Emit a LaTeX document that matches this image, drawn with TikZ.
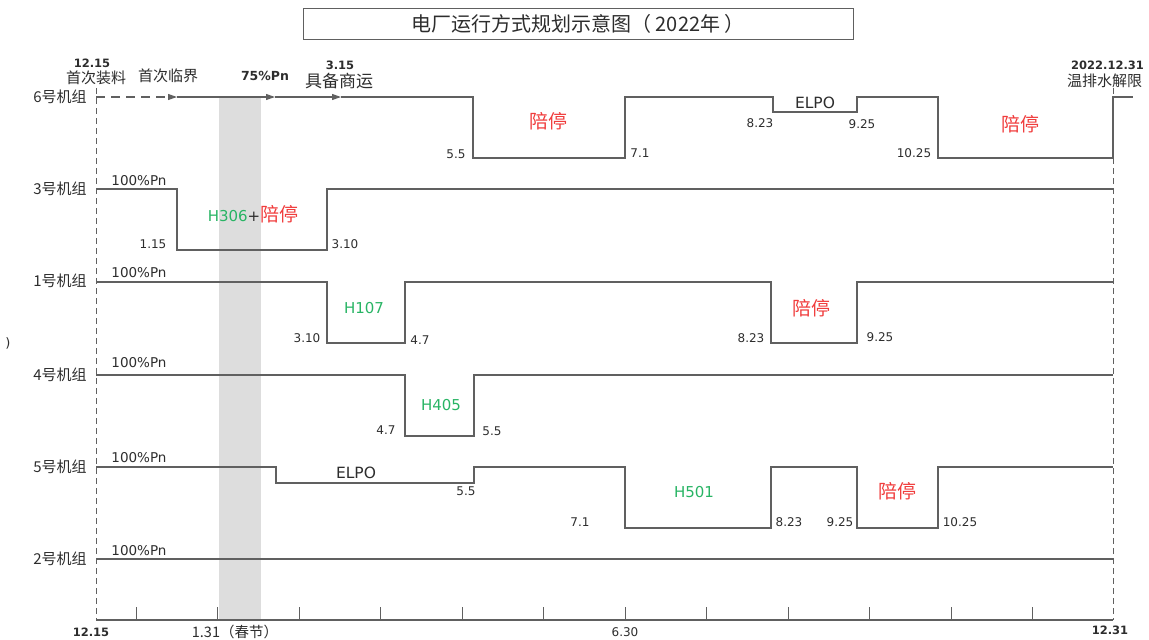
\documentclass[tikz,border=0pt]{standalone}
\usepackage{fontspec}
\setmainfont{DejaVu Sans}
\newfontfamily\cjk{Noto Sans CJK SC}
\usetikzlibrary{arrows.meta}
\definecolor{linegray}{RGB}{96,96,96}
\definecolor{txtgray}{RGB}{45,45,45}
\definecolor{stopred}{RGB}{240,60,60}
\definecolor{mtgreen}{RGB}{40,180,100}
\definecolor{bandgray}{RGB}{221,221,221}
\begin{document}
\begin{tikzpicture}[x=1pt,y=-1pt]
\tikzstyle{lvl}=[draw=linegray,line width=1.1pt]
\tikzstyle{bound}=[draw=linegray,line width=1pt,dash pattern=on 6pt off 4pt]
\tikzstyle{fwd}=[lvl,-{Triangle[length=9pt,width=6pt]}]
\tikzstyle{num}=[inner sep=0pt,text=txtgray,font=\fontsize{12}{14}\selectfont]
\tikzstyle{bnum}=[inner sep=0pt,text=txtgray,font=\bfseries\fontsize{11.5}{13}\selectfont]
\tikzstyle{pn}=[inner sep=0pt,text=txtgray,font=\fontsize{13.5}{15}\selectfont]
\tikzstyle{unit}=[inner sep=0pt,text=txtgray,font=\cjk\fontsize{15}{17}\selectfont]
\tikzstyle{stop}=[inner sep=0pt,text=stopred,font=\cjk\fontsize{19}{21}\selectfont]
\tikzstyle{mt}=[inner sep=0pt,text=mtgreen,font=\fontsize{15}{17}\selectfont]
\tikzstyle{elpo}=[inner sep=0pt,text=txtgray,font=\fontsize{15.5}{17}\selectfont]

\useasboundingbox (0,0) rectangle (1149,640);

% spring festival
\fill[bandgray] (219,98) rectangle (261,620);

% title
\node[draw=linegray,line width=1pt,minimum width=550pt,minimum height=31pt,inner sep=0pt,
  text=txtgray,font=\cjk\fontsize{20}{22}\selectfont] (title) at (578,23.5) {电厂运行方式规划示意图（ 2022年 ）};

% time axis
\draw[lvl] (96,620) -- (1113,620);
\foreach \x in {0,...,11} \draw[lvl,line width=0.9pt] (136+81.5*\x,620) -- ++(0,-13);
\draw[bound] (96,88) -- (96,620);
\draw[bound] (1113,88) -- (1113,620);

\node[bnum] (t0) at (91,632) {12.15};
\node[unit,font=\cjk\fontsize{14.5}{16}\selectfont] (t1) at (235,632) {1.31（春节）};
\node[num] (t6) at (625,632) {6.30};
\node[bnum] (t12) at (1110,630) {12.31};

% unit 6
\coordinate (u6s) at (96,97);
\coordinate (u6a) at (177,97);
\coordinate (u6b) at (275,97);
\coordinate (u6c) at (341,97);
\draw[fwd,dash pattern=on 9pt off 6pt] (u6s) -- (u6a);
\draw[fwd] (u6a) -- (u6b);
\draw[fwd] (u6b) -- (u6c);
\draw[lvl] (u6c) -- (473,97) |- (625,158) |- (773,97) |- (857,112) |- (938,97) |- (1113,158) |- (1133,97);

\node[unit] (n6) at (60,97) {6号机组};
\node[bnum] (d6a) at (92,63) {12.15};
\node[unit] (e6a) at (96,78) {首次装料};
\node[unit] (e6b) at (168,76) {首次临界};
\node[bnum,font=\bfseries\fontsize{12.5}{14}\selectfont] (p6) at (265,76) {75\%Pn};
\node[bnum] (d6c) at (340,65) {3.15};
\node[unit,font=\cjk\fontsize{17}{19}\selectfont] (e6c) at (339,81) {具备商运};
\node[stop] (s6a) at (548,121) {陪停};
\node[num] (d6d) at (456,154) {5.5};
\node[num] (d6e) at (640,153) {7.1};
\node[elpo] (l6) at (815,103) {ELPO};
\node[num] (d6f) at (760,123) {8.23};
\node[num] (d6g) at (862,124) {9.25};
\node[num] (d6h) at (914,153) {10.25};
\node[stop] (s6b) at (1020,124) {陪停};
\node[bnum,anchor=west] (d6i) at (1071,65) {2022.12.31};
\node[unit,anchor=west] (e6i) at (1067,81) {温排水解限};

% unit 3
\draw[lvl] (96,189) -- (177,189) |- (327,250) |- (1113,189);
\node[unit] (n3) at (60,189) {3号机组};
\node[pn] (p3) at (139,181) {100\%Pn};
\node[mt] (h306) at (253,214) {H306\textcolor{txtgray}{+}{\cjk\fontsize{19}{21}\selectfont\color{stopred}陪停}};
\node[num] (d3a) at (153,244) {1.15};
\node[num] (d3b) at (345,244) {3.10};

% unit 1
\draw[lvl] (96,282) -- (327,282) |- (405,343) |- (771,282) |- (857,343) |- (1113,282);
\node[unit] (n1) at (60,281) {1号机组};
\node[pn] (p1) at (139,273) {100\%Pn};
\node[mt] (h107) at (364,308) {H107};
\node[num] (d1a) at (307,338) {3.10};
\node[num] (d1b) at (420,340) {4.7};
\node[stop] (s1) at (811,308) {陪停};
\node[num] (d1c) at (751,338) {8.23};
\node[num] (d1d) at (880,337) {9.25};
\node[text=txtgray,font=\fontsize{13}{15}\selectfont] (brk) at (8,343) {)};

% unit 4
\draw[lvl] (96,375) -- (405,375) |- (474,436) |- (1113,375);
\node[unit] (n4) at (60,375) {4号机组};
\node[pn] (p4) at (139,363) {100\%Pn};
\node[mt] (h405) at (441,405) {H405};
\node[num] (d4a) at (386,430) {4.7};
\node[num] (d4b) at (492,431) {5.5};

% unit 5
\draw[lvl] (96,467) -- (276,467) |- (474,483) |- (625,467) |- (771,528) |- (857,467) |- (938,528) |- (1113,467);
\node[unit] (n5) at (60,467) {5号机组};
\node[pn] (p5) at (139,458) {100\%Pn};
\node[elpo] (l5) at (356,473) {ELPO};
\node[num] (d5a) at (466,491) {5.5};
\node[mt] (h501) at (694,492) {H501};
\node[num] (d5b) at (580,522) {7.1};
\node[num] (d5c) at (789,522) {8.23};
\node[num] (d5d) at (840,522) {9.25};
\node[stop] (s5) at (897,491) {陪停};
\node[num] (d5e) at (960,522) {10.25};

% unit 2
\draw[lvl] (96,559) -- (1113,559);
\node[unit] (n2) at (60,559) {2号机组};
\node[pn] (p2) at (139,551) {100\%Pn};
\end{tikzpicture}
\end{document}
